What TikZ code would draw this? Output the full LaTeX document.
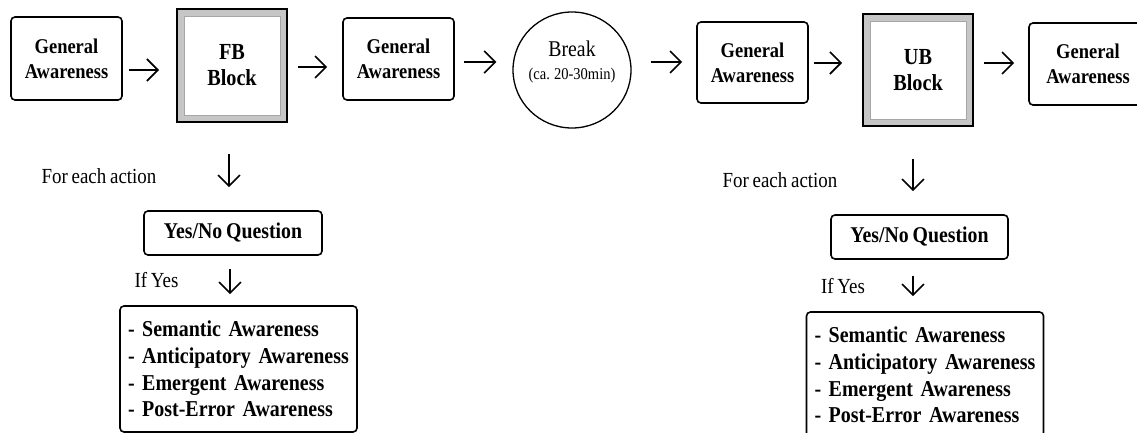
\documentclass[tikz,border=0pt]{standalone}
\usepackage{fontspec}
\setmainfont{Liberation Serif}[FakeStretch=0.88, WordSpace=0.8]
\usetikzlibrary{arrows.meta,shapes.geometric}

\begin{document}
\begin{tikzpicture}[x=1pt,y=-1pt,
  box/.style={draw, line width=1.6pt, rounded corners=4pt, fill=white,
    align=center, inner sep=0pt,
    font=\fontsize{21}{25}\selectfont\bfseries},
  blockbox/.style={draw, line width=2pt, fill=gray!45, align=center,
    inner sep=0pt, font=\fontsize{23}{26}\selectfont\bfseries,
    path picture={\draw[fill=white, draw=gray!70, line width=0.7pt]
      ([shift={(7pt,7pt)}]path picture bounding box.south west) rectangle
      ([shift={(-7pt,-7pt)}]path picture bounding box.north east);}},
  qbox/.style={box, font=\fontsize{22.5}{26}\selectfont\bfseries},
  listbox/.style={draw, line width=1.6pt, rounded corners=4pt, fill=white,
    align=left, text width=221pt, inner xsep=8pt, inner ysep=0pt,
    minimum height=126pt, font=\fontsize{22.7}{26.6}\selectfont\bfseries},
  note/.style={inner sep=0pt, font=\fontsize{21.5}{25}\selectfont},
  arr/.style={-{Straight Barb[length=11pt,width=22pt]}, line width=1.6pt}]

\useasboundingbox (0,0) rectangle (1137,433);
\clip (0,0) rectangle (1137,433);

% top row
\node[box, minimum width=111pt, minimum height=83pt] (ga1) at (66.5,58.5) {General\\Awareness};
\node[blockbox, minimum width=110pt, minimum height=113pt] (fb) at (232,65.5) {FB\\Block};
\node[box, minimum width=111pt, minimum height=82pt] (ga2) at (398.5,59) {General\\Awareness};
\node[ellipse, draw, line width=1.3pt, minimum width=118pt, minimum height=116pt, inner sep=0pt,
  label={[align=center, yshift=8pt, font=\fontsize{22.5}{23}\selectfont]center:{Break\\{\fontsize{16.5}{23}\selectfont (ca. 20-30min)}}}]
  (brk) at (572,70) {};
\node[box, minimum width=111pt, minimum height=81pt] (ga3) at (752.5,62.5) {General\\Awareness};
\node[blockbox, minimum width=110pt, minimum height=112pt] (ub) at (918,70) {UB\\Block};
\node[box, minimum width=118pt, minimum height=82pt] (ga4) at (1088,64) {General\\Awareness};

\draw[arr] ([shift={(6,11.5)}]ga1.east) -- ([shift={(-17,4.5)}]fb.west);
\draw[arr] ([shift={(10,1.5)}]fb.east) -- ([shift={(-15,8)}]ga2.west);
\draw[arr] ([shift={(9,3)}]ga2.east) -- ([shift={(-16,-8)}]brk.west);
\draw[arr] ([shift={(19,-8)}]brk.east) -- ([shift={(-14,-0.5)}]ga3.west);
\draw[arr] ([shift={(5,0.5)}]ga3.east) -- ([shift={(-20,-7)}]ub.west);
\draw[arr] ([shift={(10,-7)}]ub.east) -- ([shift={(-14,-1)}]ga4.west);

% left branch
\node[note] (fea1) at (99,176) {For each action};
\node[qbox, minimum width=178pt, minimum height=44pt] (yn1) at (233,233) {Yes/No Question};
\node[note] (ify1) at (156.5,280) {If Yes};
\node[listbox] (aw1) at (238.5,369) {- Semantic Awareness\\- Anticipatory Awareness\\- Emergent Awareness\\- Post-Error Awareness};
\draw[arr] ([shift={(-3,31)}]fb.south) -- ([shift={(-4,-23)}]yn1.north);
\draw[arr] ([shift={(-3,13)}]yn1.south) -- ([shift={(-8.5,-11)}]aw1.north);

% right branch
\node[note] (fea2) at (780,180) {For each action};
\node[qbox, minimum width=177pt, minimum height=44pt] (yn2) at (919.5,237) {Yes/No Question};
\node[note] (ify2) at (843,286) {If Yes};
\node[listbox] (aw2) at (925,375) {- Semantic Awareness\\- Anticipatory Awareness\\- Emergent Awareness\\- Post-Error Awareness};
\draw[arr] ([shift={(-5,32)}]ub.south) -- ([shift={(-6.5,-23)}]yn2.north);
\draw[arr] ([shift={(-6.5,16)}]yn2.south) -- ([shift={(-12,-15)}]aw2.north);
\end{tikzpicture}
\end{document}
